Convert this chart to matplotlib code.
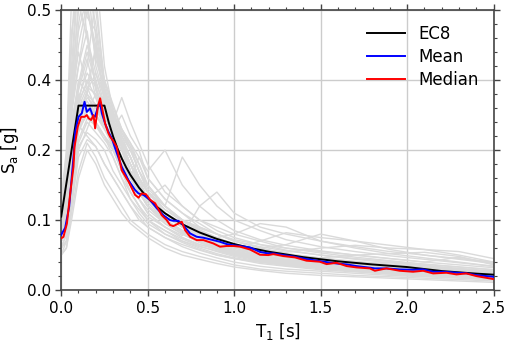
import numpy as np
import matplotlib
matplotlib.use('Agg')
import matplotlib.pyplot as plt
import matplotlib.ticker as mtick

# periods of the record spectra [s]
periods = [0, 0.03, 0.06, 0.1, 0.15, 0.2, 0.25, 0.3, 0.35, 0.4, 0.45, 0.5,
           0.6, 0.7, 0.8, 0.9, 1.0, 1.15, 1.3, 1.5, 1.7, 1.9, 2.1, 2.3, 2.5]

# spectral accelerations of the single records [g]
rec01 = [.08, .10, .18, .30, .36, .30, .26, .22, .18, .16, .14, .12, .10, .085, .075, .066, .058, .05, .044, .038, .034, .030, .027, .024, .021]
rec02 = [.06, .07, .12, .20, .26, .33, .28, .21, .17, .14, .12, .10, .08, .068, .058, .05, .045, .038, .034, .029, .026, .023, .020, .018, .016]
rec03 = [.10, .14, .30, .48, .55, .42, .35, .27, .22, .18, .15, .13, .11, .09, .075, .065, .056, .048, .042, .036, .032, .028, .025, .022, .019]
rec04 = [.07, .09, .20, .34, .42, .52, .38, .30, .24, .20, .17, .15, .12, .10, .085, .07, .06, .05, .043, .037, .033, .029, .026, .023, .020]
rec05 = [.12, .18, .45, .62, .50, .44, .36, .30, .25, .21, .18, .15, .12, .10, .085, .072, .062, .052, .046, .040, .035, .031, .028, .025, .022]
rec06 = [.05, .06, .11, .17, .22, .19, .16, .14, .12, .10, .09, .08, .065, .055, .048, .042, .036, .03, .027, .024, .021, .019, .017, .015, .013]
rec07 = [.09, .12, .26, .40, .36, .45, .40, .33, .26, .22, .19, .16, .13, .11, .09, .08, .07, .06, .052, .045, .04, .035, .031, .027, .024]
rec08 = [.11, .16, .38, .50, .58, .46, .34, .28, .22, .17, .15, .13, .11, .095, .082, .072, .064, .055, .048, .042, .037, .033, .029, .026, .023]
rec09 = [.08, .11, .22, .36, .30, .28, .24, .20, .17, .15, .13, .11, .09, .075, .065, .058, .05, .043, .038, .033, .029, .026, .023, .021, .018]
rec10 = [.07, .08, .16, .25, .31, .36, .30, .24, .19, .16, .14, .12, .10, .082, .07, .06, .052, .045, .04, .035, .031, .028, .025, .022, .019]
rec11 = [.13, .20, .52, .58, .46, .38, .30, .25, .21, .18, .16, .14, .12, .10, .09, .08, .07, .062, .056, .05, .045, .041, .037, .033, .029]
rec12 = [.09, .12, .24, .33, .40, .35, .29, .26, .30, .24, .20, .16, .13, .11, .095, .08, .07, .06, .052, .046, .041, .037, .033, .03, .026]
rec13 = [.06, .08, .14, .22, .28, .25, .22, .19, .16, .13, .11, .095, .08, .07, .062, .056, .05, .044, .04, .035, .031, .027, .024, .021, .018]
rec14 = [.10, .15, .35, .44, .38, .32, .27, .23, .20, .17, .15, .13, .15, .12, .10, .085, .075, .065, .057, .05, .044, .039, .035, .031, .027]
rec15 = [.08, .10, .20, .29, .34, .30, .26, .21, .18, .16, .19, .17, .20, .15, .12, .10, .085, .072, .064, .056, .05, .045, .04, .036, .032]
rec16 = [.07, .10, .19, .27, .24, .21, .18, .16, .14, .12, .105, .09, .075, .065, .057, .05, .045, .04, .035, .031, .028, .025, .022, .02, .017]
rec17 = [.11, .17, .40, .55, .60, .50, .40, .32, .26, .21, .17, .14, .11, .09, .075, .062, .052, .043, .036, .031, .027, .023, .02, .018, .015]
rec18 = [.09, .13, .28, .38, .44, .39, .33, .28, .35, .28, .22, .18, .14, .12, .10, .09, .08, .07, .06, .053, .047, .042, .037, .033, .029]
rec19 = [.06, .07, .13, .21, .25, .23, .20, .17, .15, .13, .115, .10, .085, .073, .063, .055, .048, .041, .036, .032, .028, .025, .022, .019, .017]
rec20 = [.12, .19, .47, .53, .49, .47, .37, .29, .23, .19, .16, .14, .12, .19, .15, .12, .10, .085, .072, .062, .055, .049, .044, .039, .034]
rec21 = [.08, .10, .19, .30, .37, .41, .33, .26, .21, .17, .14, .12, .095, .08, .068, .058, .05, .042, .036, .032, .028, .025, .022, .02, .017]
rec22 = [.07, .09, .17, .26, .32, .28, .24, .19, .16, .14, .12, .105, .09, .078, .12, .14, .11, .09, .08, .07, .062, .055, .05, .045, .04]
rec23 = [.10, .14, .33, .42, .47, .37, .31, .26, .22, .19, .16, .14, .115, .098, .085, .074, .065, .056, .05, .044, .039, .035, .032, .028, .025]
rec24 = [.05, .06, .10, .16, .20, .18, .15, .13, .11, .095, .085, .075, .06, .05, .044, .038, .033, .028, .024, .021, .019, .017, .015, .013, .011]
rec25 = [.09, .12, .25, .37, .43, .35, .28, .23, .19, .16, .14, .12, .10, .085, .075, .068, .06, .07, .082, .075, .07, .064, .058, .05, .04]
rec26 = [.08, .11, .23, .34, .39, .44, .36, .28, .22, .18, .15, .13, .11, .092, .08, .07, .062, .053, .047, .041, .037, .033, .03, .027, .024]
rec27 = [.07, .09, .18, .28, .33, .30, .27, .25, .22, .19, .16, .14, .11, .095, .082, .072, .063, .055, .048, .043, .038, .034, .03, .027, .024]
rec28 = [.11, .15, .36, .47, .52, .56, .42, .31, .24, .19, .16, .13, .10, .085, .07, .06, .052, .045, .039, .034, .03, .027, .024, .021, .018]
rec29 = [.09, .12, .27, .39, .45, .40, .32, .26, .21, .17, .15, .13, .105, .09, .08, .075, .08, .095, .09, .07, .06, .052, .046, .04, .034]
rec30 = [.07, .09, .18, .29, .35, .32, .27, .22, .18, .15, .13, .11, .09, .075, .065, .06, .055, .06, .065, .08, .07, .058, .05, .044, .038]
rec31 = [.10, .13, .30, .42, .50, .45, .34, .27, .22, .18, .155, .13, .105, .09, .078, .07, .064, .058, .054, .06, .064, .060, .058, .055, .045]
rec32 = [.06, .08, .15, .23, .29, .27, .23, .20, .17, .14, .12, .10, .085, .07, .06, .052, .046, .04, .036, .033, .036, .04, .035, .03, .026]
rec33 = [.08, .11, .24, .35, .41, .38, .31, .25, .20, .17, .145, .125, .10, .085, .072, .063, .055, .047, .041, .036, .032, .029, .026, .024, .021]
rec34 = [.12, .17, .42, .57, .54, .48, .39, .31, .25, .20, .17, .145, .12, .10, .086, .075, .066, .057, .05, .044, .039, .035, .032, .029, .026]
rec35 = [.07, .09, .17, .26, .30, .27, .24, .21, .18, .15, .13, .115, .095, .08, .068, .06, .053, .046, .041, .046, .05, .045, .04, .047, .038]
rec36 = [.09, .11, .22, .32, .38, .36, .30, .24, .20, .16, .14, .12, .098, .083, .07, .061, .054, .047, .042, .037, .033, .03, .027, .025, .022]
rec37 = [.05, .07, .12, .19, .23, .21, .18, .16, .14, .12, .10, .09, .075, .062, .053, .046, .04, .034, .03, .027, .024, .021, .019, .017, .015]
rec38 = [.10, .14, .32, .45, .51, .43, .37, .29, .23, .19, .16, .14, .115, .10, .088, .08, .072, .065, .06, .055, .05, .052, .054, .048, .036]
rec39 = [.08, .10, .21, .31, .36, .33, .28, .23, .19, .16, .14, .12, .10, .085, .073, .064, .056, .049, .043, .038, .034, .031, .028, .025, .022]
rec40 = [.11, .15, .37, .51, .46, .41, .35, .30, .26, .22, .18, .15, .12, .10, .085, .074, .065, .056, .049, .043, .038, .034, .03, .027, .024]
records = [rec01, rec02, rec03, rec04, rec05, rec06, rec07, rec08, rec09, rec10,
           rec11, rec12, rec13, rec14, rec15, rec16, rec17, rec18, rec19, rec20,
           rec21, rec22, rec23, rec24, rec25, rec26, rec27, rec28, rec29, rec30,
           rec31, rec32, rec33, rec34, rec35, rec36, rec37, rec38, rec39, rec40]

# EC8 design spectrum
ec8_T = [0, 0.1, 0.25, 0.275, 0.3, 0.325, 0.35, 0.375, 0.4, 0.45, 0.5, 0.55,
         0.6, 0.7, 0.8, 0.9, 1.0, 1.1, 1.2, 1.4, 1.6, 1.8, 2.0, 2.2, 2.4, 2.5]
ec8_Sa = [0.105, 0.327, 0.327, 0.279, 0.239, 0.205, 0.188, 0.1755, 0.1645,
          0.1462, 0.1316, 0.1196, 0.1097, 0.094, 0.0823, 0.0731, 0.0658,
          0.0598, 0.0548, 0.047, 0.0411, 0.0366, 0.0329, 0.0272, 0.0235, 0.022]

# mean spectrum
mean_T = [0, 0.023, 0.046, 0.071, 0.081, 0.1, 0.119, 0.135, 0.148, 0.167,
          0.181, 0.196, 0.212, 0.223, 0.235, 0.254, 0.273, 0.293, 0.312, 0.35,
          0.389, 0.427, 0.447, 0.475, 0.514, 0.552, 0.59, 0.629, 0.648, 0.677,
          0.697, 0.716, 0.745, 0.783, 0.822, 0.879, 0.918, 0.957, 0.995, 1.034,
          1.091, 1.149, 1.197, 1.226, 1.284, 1.351, 1.418, 1.495, 1.534, 1.592,
          1.65, 1.707, 1.784, 1.813, 1.88, 1.957, 2.034, 2.092, 2.15, 2.227,
          2.285, 2.342, 2.4, 2.5]
mean_Sa = [0.079, 0.089, 0.119, 0.19, 0.252, 0.295, 0.305, 0.338, 0.309, 0.319,
           0.30, 0.295, 0.324, 0.338, 0.305, 0.276, 0.252, 0.233, 0.205, 0.176,
           0.157, 0.143, 0.138, 0.136, 0.129, 0.117, 0.107, 0.10, 0.099, 0.099,
           0.095, 0.0895, 0.081, 0.0762, 0.0748, 0.0714, 0.069, 0.0657, 0.064,
           0.0629, 0.061, 0.0545, 0.0524, 0.0524, 0.05, 0.0476, 0.0443, 0.0414,
           0.040, 0.038, 0.0367, 0.0343, 0.032, 0.031, 0.031, 0.0295, 0.029,
           0.0295, 0.0262, 0.026, 0.0248, 0.024, 0.0214, 0.019]

# median spectrum
median_T = [0, 0.013, 0.033, 0.052, 0.071, 0.077, 0.096, 0.115, 0.135, 0.148,
            0.158, 0.173, 0.187, 0.196, 0.212, 0.225, 0.239, 0.254, 0.273,
            0.283, 0.302, 0.321, 0.35, 0.389, 0.427, 0.447, 0.465, 0.49, 0.514,
            0.543, 0.581, 0.61, 0.629, 0.648, 0.677, 0.697, 0.716, 0.745, 0.783,
            0.822, 0.879, 0.918, 0.957, 0.995, 1.034, 1.091, 1.149, 1.197, 1.226,
            1.284, 1.351, 1.418, 1.495, 1.534, 1.592, 1.65, 1.707, 1.784, 1.813,
            1.88, 1.957, 2.034, 2.092, 2.15, 2.227, 2.285, 2.342, 2.4, 2.5]
median_Sa = [0.074, 0.076, 0.095, 0.138, 0.176, 0.209, 0.267, 0.295, 0.295,
             0.30, 0.291, 0.286, 0.30, 0.262, 0.324, 0.348, 0.314, 0.276, 0.248,
             0.238, 0.225, 0.209, 0.171, 0.155, 0.136, 0.132, 0.138, 0.137,
             0.129, 0.124, 0.107, 0.10, 0.093, 0.0914, 0.095, 0.0976, 0.0857,
             0.0762, 0.0714, 0.0714, 0.0667, 0.062, 0.063, 0.063, 0.062, 0.058,
             0.0505, 0.05, 0.0514, 0.0486, 0.0467, 0.042, 0.0405, 0.0371, 0.039,
             0.0343, 0.0324, 0.031, 0.0276, 0.031, 0.0276, 0.0262, 0.0276,
             0.0238, 0.0248, 0.0224, 0.0238, 0.020, 0.0157]

# y axis ticks as labelled on the figure (equally spaced)
ytick_vals = [0.0, 0.1, 0.2, 0.4, 0.5]
ytick_pos = [0, 1, 2, 3, 4]


def fwd(v):
    return np.interp(v, ytick_vals + [1.5], ytick_pos + [14])


def inv(p):
    return np.interp(p, ytick_pos + [14], ytick_vals + [1.5])


plt.rcParams['font.family'] = 'DejaVu Sans'
fig, ax = plt.subplots(figsize=(5.1, 3.47), dpi=100)
fig.subplots_adjust(left=0.12, right=0.968, bottom=0.164, top=0.971)

for rec in records:
    ax.plot(periods, rec, color='#dadada', lw=1.0, zorder=2)
ax.plot(ec8_T, ec8_Sa, color='k', lw=1.4, label='EC8', zorder=4)
ax.plot(mean_T, mean_Sa, color='b', lw=1.4, label='Mean', zorder=5)
ax.plot(median_T, median_Sa, color='r', lw=1.4, label='Median', zorder=6)

ax.set_yscale('function', functions=(fwd, inv))
ax.set_xlim(0, 2.5)
ax.set_ylim(0, 0.5)
ax.yaxis.set_major_locator(mtick.FixedLocator(ytick_vals))
ax.yaxis.set_minor_locator(mtick.FixedLocator(inv(np.arange(0, 4.01, 0.2))))
ax.yaxis.set_major_formatter(mtick.FormatStrFormatter('%.1f'))
ax.yaxis.set_minor_formatter(mtick.NullFormatter())
ax.xaxis.set_major_locator(mtick.MultipleLocator(0.5))
ax.xaxis.set_minor_locator(mtick.MultipleLocator(0.1))
ax.xaxis.set_major_formatter(mtick.FormatStrFormatter('%.1f'))

ax.grid(True, which='major', color='#cccccc', lw=1.0, zorder=1)
ax.set_axisbelow(True)
ax.tick_params(which='both', direction='out', top=True, right=True,
               colors='#444444', labelcolor='k', labelsize=11)
ax.tick_params(which='major', length=4, width=1.0)
ax.tick_params(which='minor', length=2, width=0.8)
for sp in ax.spines.values():
    sp.set_color('#444444')
    sp.set_linewidth(1.2)

ax.set_xlabel(r'T$_\mathregular{1}$ [s]', fontsize=12)
ax.set_ylabel(r'S$_\mathregular{a}$ [g]', fontsize=12)
ax.legend(loc='upper right', frameon=False, fontsize=12, handlelength=2.3,
          labelspacing=0.3, borderaxespad=0.5)

plt.savefig('out.png', dpi=100)
